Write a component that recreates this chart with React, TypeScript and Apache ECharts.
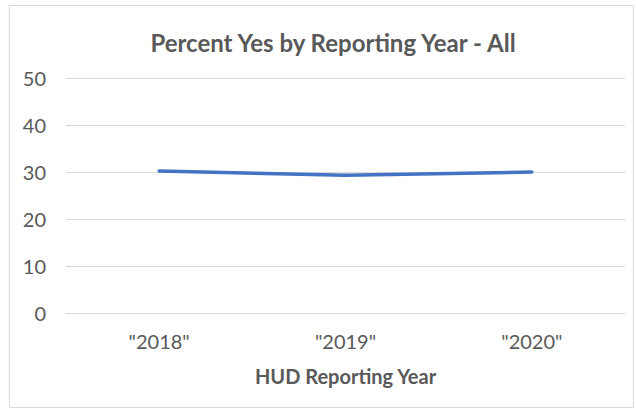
import React, { useEffect, useRef } from "react";
import * as echarts from "echarts";

const categories = ['"2018"', '"2019"', '"2020"'];
const percentYes = [30.2, 29.3, 30.0];
const titleText = "Percent Yes by Reporting Year - All";
const xAxisName = "HUD Reporting Year";

export default function App() {
  const ref = useRef<HTMLDivElement>(null);
  useEffect(() => {
    if (!ref.current) return;
    const chart = echarts.init(ref.current, undefined, { renderer: "svg" });
    const font = "Lato, 'Open Sans', sans-serif";
    chart.setOption({
      animation: false,
      backgroundColor: "#ffffff",
      title: {
        text: titleText,
        left: 328,
        textAlign: "center",
        top: 25,
        textStyle: { fontFamily: font, fontSize: 24, fontWeight: "bold", color: "#595959" },
      },
      graphic: [
        {
          type: "rect",
          shape: { x: 9.5, y: 5.5, width: 624, height: 402 },
          style: { fill: "none", stroke: "#D9D9D9", lineWidth: 1 },
          silent: true,
        },
      ],
      grid: { left: 66, right: 11, top: 78, bottom: 98, containLabel: false },
      xAxis: {
        type: "category",
        data: categories,
        boundaryGap: true,
        axisLine: { show: true, lineStyle: { color: "#D9D9D9", width: 1 } },
        axisTick: { show: false },
        axisLabel: { fontFamily: font, fontSize: 20, color: "#595959", margin: 18 },
        name: xAxisName,
        nameLocation: "middle",
        nameGap: 53,
        nameTextStyle: { fontFamily: font, fontSize: 20, fontWeight: "bold", color: "#595959" },
      },
      yAxis: {
        type: "value",
        min: 0,
        max: 50,
        interval: 10,
        axisLine: { show: false },
        axisTick: { show: false },
        splitLine: { lineStyle: { color: "#D9D9D9", width: 1 } },
        axisLabel: { fontFamily: font, fontSize: 20, color: "#595959", margin: 20 },
      },
      series: [
        {
          type: "line",
          data: percentYes,
          showSymbol: false,
          symbol: "none",
          lineStyle: { color: "#4472C4", width: 3.5, cap: "round" },
        },
      ],
    });
    return () => chart.dispose();
  }, []);
  return (
    <div
      ref={ref}
      style={{ position: "fixed", left: 0, top: 0, width: 636, height: 411, background: "#fff" }}
    />
  );
}
